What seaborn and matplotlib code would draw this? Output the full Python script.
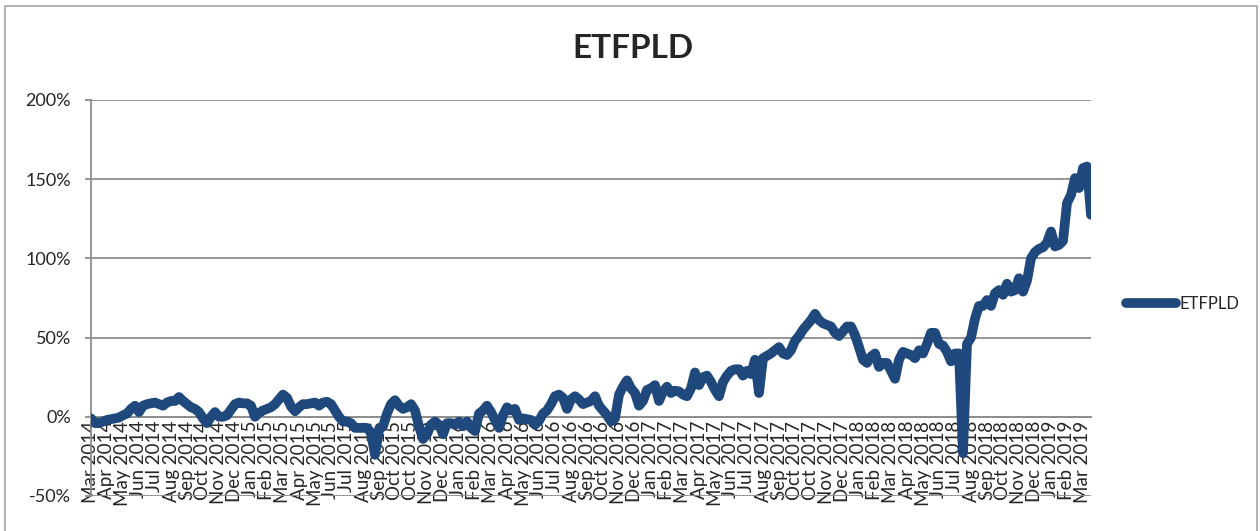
#!/usr/bin/env python3
"""
ETFPLD cumulative return, Mar 2014 - Mar 2019 (Excel-style line chart).
"""

import pandas as pd
import seaborn as sns
import matplotlib.pyplot as plt
from matplotlib.ticker import FuncFormatter, MultipleLocator
from matplotlib.lines import Line2D

SERIES_NAME = 'ETFPLD'

# cumulative return in % (4 samples per month label)
etfpld_pct = [
    -1, -4, -4, -3, -2, -1.5, -1, -0.5, 1, 2,
    5, 7, 3, 7, 8, 8.5, 9, 8, 7, 9,
    10, 10, 12.5, 10, 8, 6, 5, 3, -1, -4,
    0, 3, 0, 0, 1, 4.5, 8, 9, 8.5, 8.5,
    7, 0, 2.5, 4, 5, 6, 8, 11, 14, 12,
    6.5, 3.5, 6, 8, 8, 8.5, 9, 7, 9, 9.5,
    8, 4, 0, -3, -3, -4, -7, -7, -7, -7,
    -10, -24, -8, -6, 2, 8, 10.5, 7, 5, 6,
    8, 4, -6, -14, -11, -5, -3, -5, -11, -4,
    -4, -5, -3, -6, -3, -7, -9, 2, 4, 7,
    3, -2, -7, 1, 6, 4, 5, -2, -1, -1.5,
    -2, -5, -2.5, 2, 4, 8, 13, 14, 12, 5,
    11, 13, 11, 8, 9, 10, 13, 7, 4, 1,
    -3, -1, 14, 19, 23, 18, 15, 7, 10, 17,
    18, 20, 10, 16, 19, 15, 16.5, 16, 14, 13,
    18, 28, 20, 25, 26, 22, 17, 13, 22, 26,
    29, 30, 30, 26, 29, 27, 36, 15, 37, 38.5,
    40, 42, 44, 40, 39, 42, 48, 51, 55, 58,
    61, 65, 61, 59, 58, 57, 53, 51, 54, 57,
    57, 51.6, 44, 36, 34, 38, 40, 31.5, 34, 34,
    29, 24, 36, 41, 40, 39, 37, 42, 40, 46,
    53, 53, 46, 45, 41, 35, 40, 40, -23, 46,
    50, 62, 70, 70, 73.7, 70, 78, 80, 77, 84,
    79, 80, 87.5, 79, 86, 100, 104, 106, 107, 110,
    117, 107.5, 108.5, 111, 135, 140, 150.7, 144.4, 157, 158,
    127.5,
]

month_labels = [
    'Mar 2014', 'Apr 2014', 'May 2014', 'Jun 2014', 'Jul 2014', 'Aug 2014',
    'Sep 2014', 'Oct 2014', 'Nov 2014', 'Dec 2014',
    'Jan 2015', 'Feb 2015', 'Mar 2015', 'Apr 2015', 'May 2015', 'Jun 2015',
    'Jul 2015', 'Aug 2015', 'Sep 2015', 'Oct 2015', 'Oct 2015', 'Nov 2015',
    'Dec 2015',
    'Jan 2016', 'Feb 2016', 'Mar 2016', 'Apr 2016', 'May 2016', 'Jun 2016',
    'Jul 2016', 'Aug 2016', 'Sep 2016', 'Oct 2016', 'Nov 2016', 'Dec 2016',
    'Jan 2017', 'Feb 2017', 'Mar 2017', 'Apr 2017', 'May 2017', 'Jun 2017',
    'Jul 2017', 'Aug 2017', 'Sep 2017', 'Oct 2017', 'Oct 2017', 'Nov 2017',
    'Dec 2017',
    'Jan 2018', 'Feb 2018', 'Mar 2018', 'Apr 2018', 'May 2018', 'Jun 2018',
    'Jul 2018', 'Aug 2018', 'Sep 2018', 'Oct 2018', 'Nov 2018', 'Dec 2018',
    'Jan 2019', 'Feb 2019', 'Mar 2019',
]
LABEL_EVERY = 4

LINE_COLOR = '#1F497D'
GRID_COLOR = '#8E8E8E'

df = pd.DataFrame({'day': range(len(etfpld_pct)), SERIES_NAME: etfpld_pct})

sns.set_style('white')
plt.rcParams['font.family'] = ['Lato', 'DejaVu Sans']

W, H = 1260, 531
fig = plt.figure(figsize=(W / 100, H / 100), dpi=100)
ax = fig.add_axes([91 / W, 1 - 496 / H, (1091 - 91) / W, (496 - 100) / H])

sns.lineplot(data=df, x='day', y=SERIES_NAME, ax=ax, color=LINE_COLOR,
             linewidth=7, legend=False, zorder=3,
             solid_capstyle='round', solid_joinstyle='round')

ax.set_xlim(0, len(etfpld_pct) - 1)
ax.set_ylim(-50, 200)
ax.yaxis.set_major_locator(MultipleLocator(50))
ax.yaxis.set_major_formatter(FuncFormatter(lambda v, _: f'{v:.0f}%'))
ax.grid(axis='y', color=GRID_COLOR, linewidth=1.3)
ax.grid(axis='x', visible=False)
ax.set_xlabel('')
ax.set_ylabel('')

ax.set_xticks(range(0, LABEL_EVERY * len(month_labels), LABEL_EVERY))
ax.set_xticklabels(month_labels)
ax.tick_params(axis='x', length=0, pad=3, labelrotation=90, labelsize=13.5)
ax.tick_params(axis='y', left=True, length=4.5, width=1.3, color=GRID_COLOR,
               labelsize=13, pad=10)
for lbl in ax.get_xticklabels():
    lbl.set_fontfamily(['DejaVu Sans'])
    lbl.set_rotation(90)
    lbl.set_horizontalalignment('center')
    lbl.set_verticalalignment('top')

for side in ('top', 'right'):
    ax.spines[side].set_visible(False)
ax.spines['left'].set_color(GRID_COLOR)
ax.spines['left'].set_linewidth(1.3)
ax.spines['bottom'].set_position(('data', 0))
ax.spines['bottom'].set_color(GRID_COLOR)
ax.spines['bottom'].set_linewidth(1.3)

fig.text(633 / W, 1 - 49 / H, SERIES_NAME, ha='center', va='center',
         fontsize=24, fontweight='bold')

handle = Line2D([], [], color=LINE_COLOR, linewidth=7, solid_capstyle='round')
fig.legend([handle], [SERIES_NAME], loc='center left',
           bbox_to_anchor=(1118 / W, 1 - 304 / H), frameon=False,
           fontsize=12, handlelength=3.0, handletextpad=0.2, borderpad=0)

# chart area border
fig.add_artist(plt.Rectangle((5 / W, -0.01), (1257 - 5) / W, 1 - 6 / H + 0.01,
                             transform=fig.transFigure, fill=False,
                             edgecolor='#A6A6A6', linewidth=1.2))

fig.savefig('out.png', dpi=100)
